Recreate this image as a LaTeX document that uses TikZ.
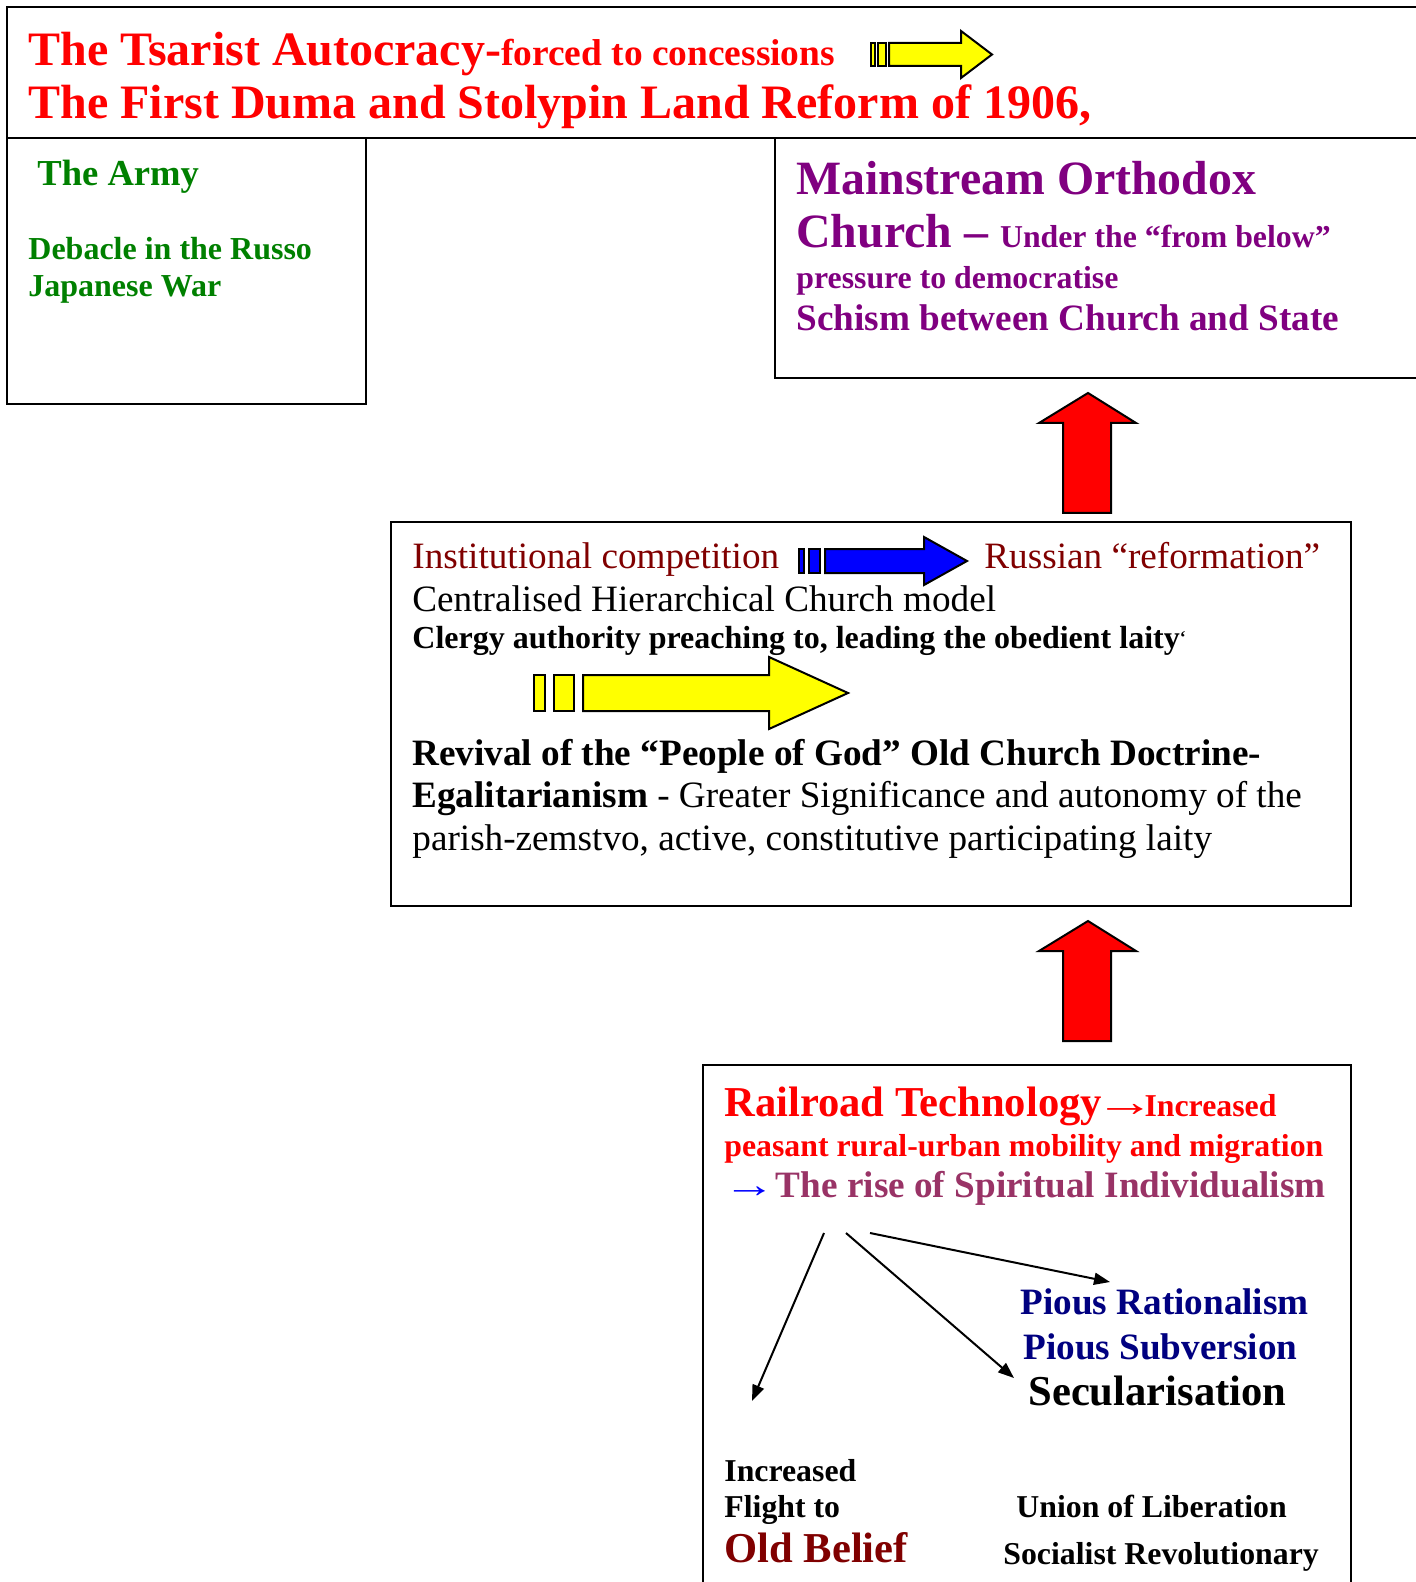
\documentclass[tikz,border=0pt]{standalone}
\usepackage{fontspec}
\usepackage{graphicx}
\setmainfont{Liberation Serif}
\usetikzlibrary{arrows.meta,positioning}

\definecolor{tsarred}{RGB}{255,0,0}
\definecolor{armygreen}{RGB}{0,128,0}
\definecolor{churchpurple}{RGB}{128,0,128}
\definecolor{maroon}{RGB}{128,0,0}
\definecolor{piousblue}{RGB}{0,0,128}
\definecolor{spiritplum}{RGB}{153,51,102}
\definecolor{arrowblue}{RGB}{0,0,255}
\definecolor{arrowyellow}{RGB}{255,255,0}

\newcommand{\fsz}[1]{\fontsize{#1}{#1}\selectfont}
\newcommand{\widearrow}{\kern-0.16em\scalebox{1.4}[1]{→}\kern-0.24em}

\begin{document}
\begin{tikzpicture}[
    x=0.5pt, y=-0.5pt,
    frame/.style={draw, line width=1pt},
    txt/.style={anchor=base west, inner sep=0pt, align=left},
    blockarrow/.style={draw, line width=1pt, line join=miter},
    branch/.style={-{Triangle[length=8pt,width=6pt]}, line width=1pt}
]
\useasboundingbox (0,0) rectangle (1415,1582);

% Boxes
\draw[frame] (7,7) rectangle (1440,138);
\draw[frame] (7,138) rectangle (366,404);
\draw[frame] (775,138) rectangle (1440,378);
\draw[frame] (391,522) rectangle (1351,906);
\draw[frame] (703,1065) rectangle (1351,1600);

% Top box
\node[txt, text=tsarred] (tsar) at (28,66) {\fsz{24}\bfseries The Tsarist Autocracy-\fsz{18.7}forced to concessions};
\node[txt, text=tsarred] (duma) at (28,119) {\fsz{24}\bfseries The First Duma and Stolypin Land Reform of 1906,};
\draw[blockarrow, fill=arrowyellow] (871,43) rectangle (875,66);
\draw[blockarrow, fill=arrowyellow] (878,43) rectangle (886,66);
\draw[blockarrow, fill=arrowyellow] (889,43) -- (961,43) -- (961,31) -- (992,54.5) -- (961,78) -- (961,66) -- (889,66) -- cycle;

% The Army
\node[txt, text=armygreen] (army) at (37,186) {\fsz{18.3}\bfseries The Army};
\node[txt, text=armygreen] (debacle) at (28,260) {\fsz{16}\bfseries Debacle in the Russo};
\node[txt, text=armygreen] (japan) at (28,297) {\fsz{16}\bfseries Japanese War};

% Orthodox Church
\node[txt, text=churchpurple] (orth) at (796,195) {\fsz{23.9}\bfseries Mainstream Orthodox};
\node[txt, text=churchpurple] (church) at (796,248) {\fsz{23.9}\bfseries Church -- \fsz{15.9}Under the “from below”};
\node[txt, text=churchpurple] (pressure) at (796,289) {\fsz{15.9}\bfseries pressure to democratise};
\node[txt, text=churchpurple] (schism) at (796,331) {\fsz{18.6}\bfseries Schism between Church and State};

% Red arrows
\draw[blockarrow, fill=tsarred] (1063,513) -- (1063,423) -- (1039,423) -- (1088,393) -- (1136,423) -- (1111,423) -- (1111,513) -- cycle;
\draw[blockarrow, fill=tsarred] (1063,1041) -- (1063,951) -- (1039,951) -- (1088,921) -- (1136,951) -- (1111,951) -- (1111,1041) -- cycle;

% Middle box
\node[txt, text=maroon] (compet) at (412,568) {\fsz{18.6}Institutional competition};
\node[txt, text=maroon] (reform) at (984,568) {\fsz{18.6}Russian “reformation”};
\draw[blockarrow, fill=arrowblue] (799,549) rectangle (804,573);
\draw[blockarrow, fill=arrowblue] (809,549) rectangle (820,573);
\draw[blockarrow, fill=arrowblue] (825,549) -- (924,549) -- (924,537) -- (967,561) -- (924,585) -- (924,573) -- (825,573) -- cycle;
\node[txt] (central) at (412,611) {\fsz{18.6}Centralised Hierarchical Church model};
\node[txt] (clergy) at (412,648) {\fsz{16}\bfseries Clergy authority preaching to, leading the obedient laity\raisebox{0.3ex}{\fsz{9}‘}};
\draw[blockarrow, fill=arrowyellow] (534,675) rectangle (545,711);
\draw[blockarrow, fill=arrowyellow] (554,675) rectangle (574,711);
\draw[blockarrow, fill=arrowyellow] (583,675) -- (769,675) -- (769,657) -- (848,693) -- (769,729) -- (769,711) -- (583,711) -- cycle;
\node[txt] (revival) at (412,765) {\fsz{18.6}\bfseries Revival of the “People of God” Old Church Doctrine-};
\node[txt] (egal) at (412,807) {\fsz{18.6}\textbf{Egalitarianism} - Greater Significance and autonomy of the};
\node[txt] (parish) at (412,850) {\fsz{18.6}parish-zemstvo, active, constitutive participating laity};

% Bottom box
\node[txt, text=tsarred] (rail) at (724,1116) {\fsz{21.3}\bfseries Railroad Technology\widearrow\fsz{15.9}Increased};
\node[txt, text=tsarred] (peasant) at (724,1156) {\fsz{15.9}\bfseries peasant rural-urban mobility and migration};
\node[txt, text=spiritplum] (rise) at (729,1197) {\fsz{18.6}\textcolor{arrowblue}{\widearrow} \bfseries The rise of Spiritual Individualism};

\coordinate (splitA) at (824,1233);
\coordinate (splitB) at (846,1233);
\coordinate (splitC) at (870,1233);
\coordinate (endA) at (752,1401);
\coordinate (endB) at (1014,1378);
\coordinate (endC) at (1110,1282);
\draw[branch] (splitA) -- (endA);
\draw[branch] (splitB) -- (endB);
\draw[branch] (splitC) -- (endC);

\node[txt, text=piousblue] (ration) at (1020,1314) {\fsz{18.6}\bfseries Pious Rationalism};
\node[txt, text=piousblue] (subver) at (1023,1359) {\fsz{18.6}\bfseries Pious Subversion};
\node[txt] (secular) at (1028,1405) {\fsz{21.3}\bfseries Secularisation};

\node[txt] (incr) at (724,1481) {\fsz{15.9}\bfseries Increased};
\node[txt] (flight) at (724,1517) {\fsz{15.9}\bfseries Flight to};
\node[txt, text=maroon] (oldbel) at (724,1562) {\fsz{21.3}\bfseries Old Belief};
\node[txt] (union) at (1016,1517) {\fsz{15.9}\bfseries Union of Liberation};
\node[txt] (socrev) at (1003,1564) {\fsz{15.9}\bfseries Socialist Revolutionary};

\end{tikzpicture}
\end{document}
